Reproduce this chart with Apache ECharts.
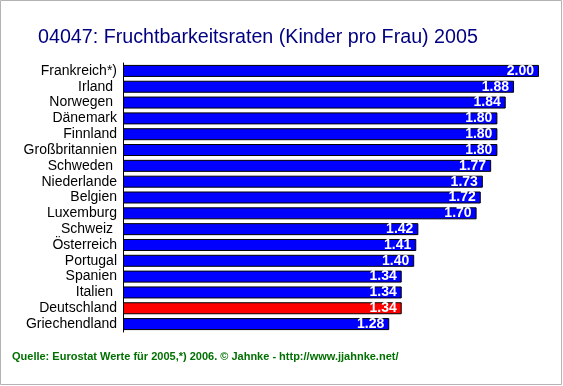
<!DOCTYPE html>
<html>
<head>
<meta charset="utf-8">
<script src="https://cdn.jsdelivr.net/npm/echarts@6/dist/echarts.min.js"></script>
<style>
html,body{margin:0;padding:0;background:#fff;}
#c{width:563px;height:386px;}
</style>
</head>
<body>
<div id="c"></div>
<script>
const categories = ["Frankreich*)","Irland ","Norwegen ","Dänemark","Finnland","Großbritannien","Schweden ","Niederlande","Belgien","Luxemburg","Schweiz ","Österreich","Portugal","Spanien","Italien ","Deutschland","Griechendland"];
const values = [2.00,1.88,1.84,1.80,1.80,1.80,1.77,1.73,1.72,1.70,1.42,1.41,1.40,1.34,1.34,1.34,1.28];
const highlight = "Deutschland";
const titleText = "04047: Fruchtbarkeitsraten (Kinder pro Frau) 2005";
const footerText = "Quelle: Eurostat Werte für 2005,*) 2006. © Jahnke - http://www.jjahnke.net/";

const chart = echarts.init(document.getElementById('c'), null, {renderer:'canvas'});
chart.setOption({
  animation:false,
  backgroundColor:'#fff',
  title:{
    text:titleText, left:33, top:23,
    textStyle:{fontFamily:'Liberation Sans, Arial', fontSize:19.7, fontWeight:'normal', color:'#000080'}
  },
  graphic:[
    {type:'rect', shape:{x:0.5,y:0.5,width:561,height:384}, style:{fill:null, stroke:'#b4b4b4', lineWidth:1}, silent:true},
    {type:'text', left:12, top:351, style:{text:footerText, font:'bold 11px "Liberation Sans", Arial', fill:'#007000'}}
  ],
  grid:{left:123, right:24, top:63, bottom:54, containLabel:false},
  xAxis:{type:'value', min:0, max:2.0, show:false},
  yAxis:{
    type:'category', data:categories, inverse:true,
    axisLine:{show:true, lineStyle:{color:'#000', width:1}},
    axisTick:{show:false},
    axisLabel:{interval:0, margin:6, fontFamily:'Liberation Sans, Arial', fontSize:14, color:'#000'}
  },
  series:[{
    type:'bar', barWidth:12,
    data:values.map((v,i)=>({value:v, itemStyle:{color: categories[i].trim()===highlight ? '#ff0000' : '#0000ff'}})),
    itemStyle:{borderColor:'#000', borderWidth:1},
    label:{show:true, position:'insideRight', distance:5, formatter:p=>p.value.toFixed(2),
      fontFamily:'Liberation Sans, Arial', fontSize:14, fontWeight:'bold', color:'#fff'}
  }]
});
</script>
</body>
</html>
